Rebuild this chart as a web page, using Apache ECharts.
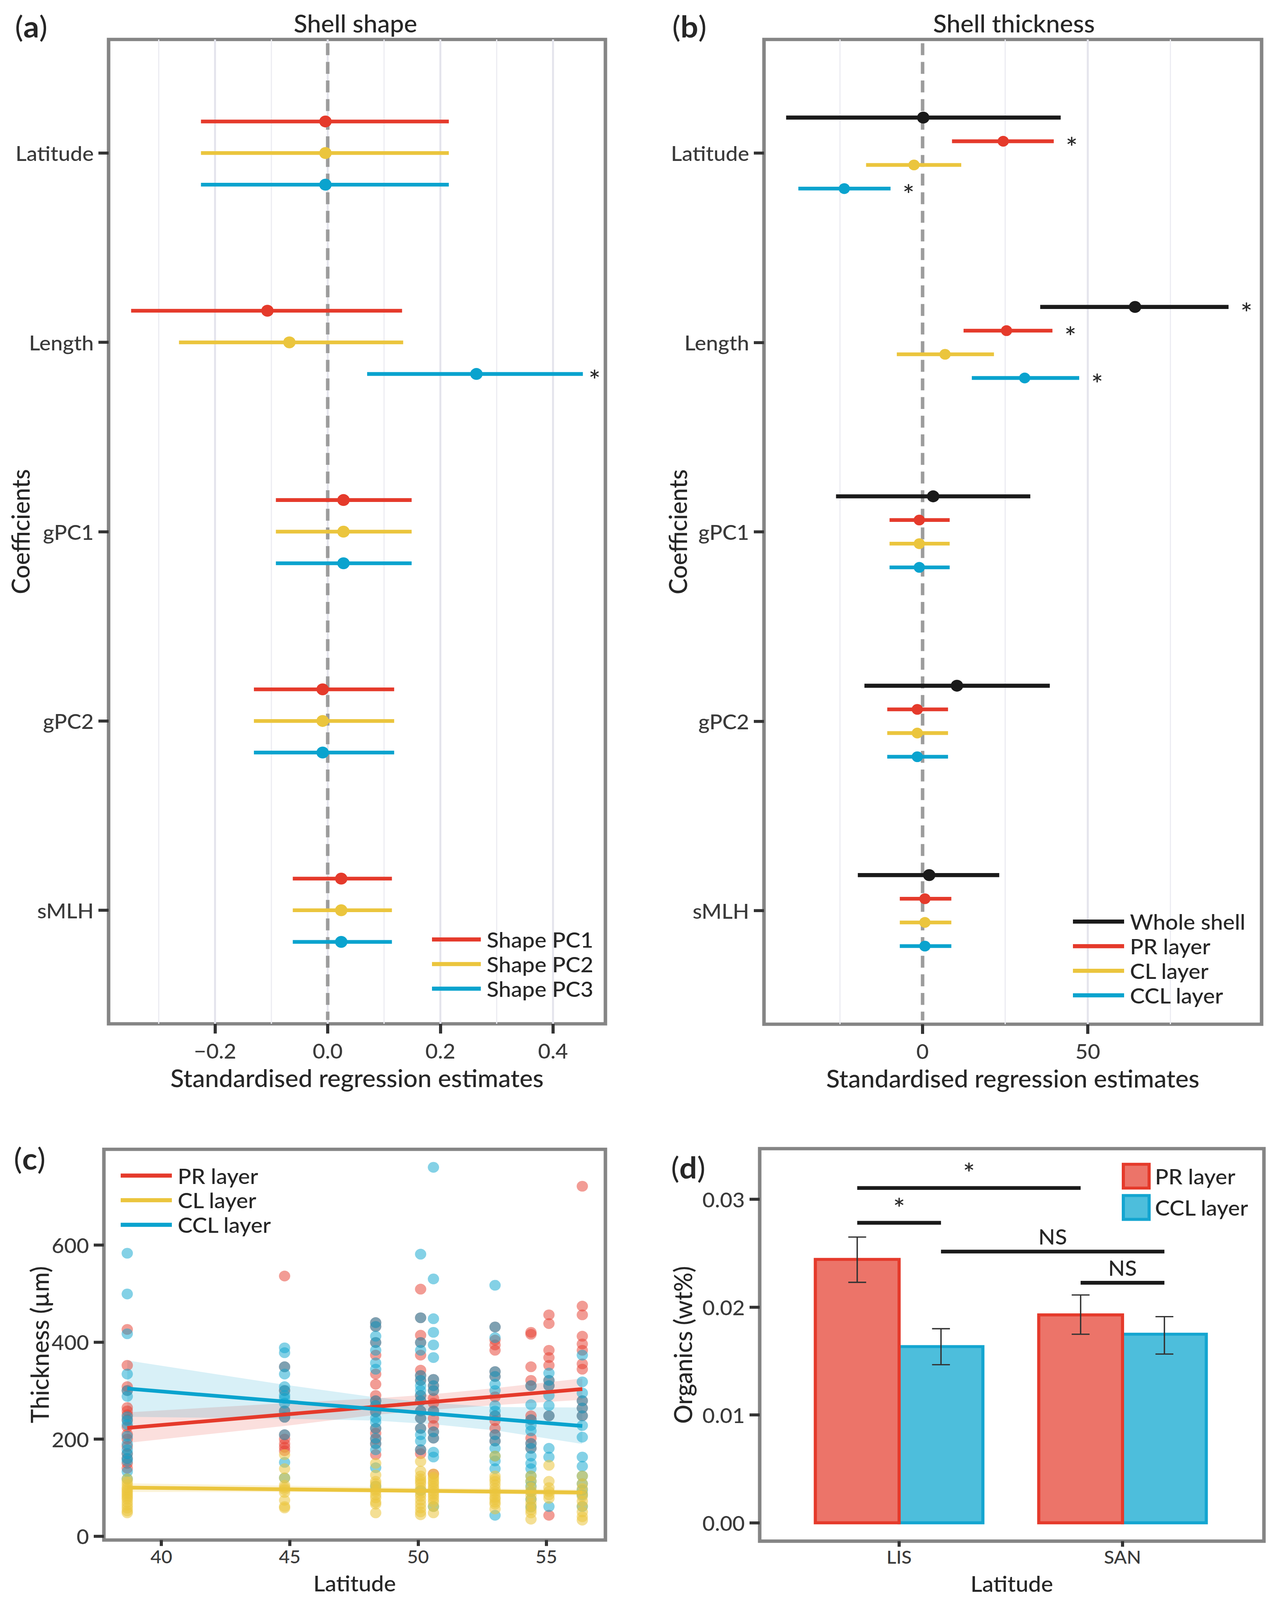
<!DOCTYPE html>
<html>
<head>
<meta charset="utf-8">
<title>Shell shape, thickness and organics</title>
<script src="https://cdn.jsdelivr.net/npm/echarts@6.0.0/dist/echarts.min.js"></script>
<style>
html, body { margin: 0; padding: 0; background: #fff; overflow: hidden; }
#chart { width: 3272px; height: 4296px; transform-origin: 0 0; }
</style>
</head>
<body>
<div id="chart"></div>
<script>
// ---- (a) / (b) coefficient plots ----
var coefNames = ['Latitude', 'Length', 'gPC1', 'gPC2', 'sMLH'];

// shell shape: estimate, lower, upper, significant
var pc1Est = [-0.004, -0.107, 0.028, -0.009, 0.024];
var pc1Lo  = [-0.225, -0.349, -0.092, -0.131, -0.062];
var pc1Hi  = [0.215, 0.132, 0.149, 0.118, 0.114];
var pc1Sig = [0, 0, 0, 0, 0];
var pc2Est = [-0.004, -0.068, 0.028, -0.009, 0.024];
var pc2Lo  = [-0.225, -0.264, -0.092, -0.131, -0.062];
var pc2Hi  = [0.215, 0.134, 0.149, 0.118, 0.114];
var pc2Sig = [0, 0, 0, 0, 0];
var pc3Est = [-0.004, 0.264, 0.028, -0.009, 0.024];
var pc3Lo  = [-0.225, 0.070, -0.092, -0.131, -0.062];
var pc3Hi  = [0.215, 0.453, 0.149, 0.118, 0.114];
var pc3Sig = [0, 1, 0, 0, 0];

// shell thickness
var wholeEst = [0.2, 64.3, 3.2, 10.4, 2.0];
var wholeLo  = [-41.3, 35.6, -26.2, -17.6, -19.6];
var wholeHi  = [41.8, 92.6, 32.6, 38.5, 23.2];
var wholeSig = [0, 1, 0, 0, 0];
var prEst = [24.4, 25.4, -1.0, -1.6, 0.7];
var prLo  = [8.9, 12.4, -10.0, -10.7, -6.9];
var prHi  = [39.7, 39.3, 8.2, 7.7, 8.7];
var prSig = [1, 1, 0, 0, 0];
var clEst = [-2.6, 6.8, -1.0, -1.6, 0.7];
var clLo  = [-17.1, -7.8, -10.0, -10.7, -6.9];
var clHi  = [11.7, 21.6, 8.2, 7.7, 8.7];
var clSig = [0, 0, 0, 0, 0];
var cclEst = [-23.7, 30.9, -1.0, -1.6, 0.7];
var cclLo  = [-37.6, 14.9, -10.0, -10.7, -6.9];
var cclHi  = [-9.7, 47.4, 8.2, 7.7, 8.7];
var cclSig = [1, 1, 0, 0, 0];

var ticksA = [-0.2, 0, 0.2, 0.4];
var minorA = [-0.3, -0.1, 0.1, 0.3];
var ticksB = [0, 50];
var majorB = [50];
var minorB = [-25, 25, 75];

// ---- (c) thickness vs latitude ----
var latSites = [38.67, 44.8, 48.35, 50.1, 50.6, 53.0, 54.4, 55.1, 56.4];
var prThick = [
  [426, 352, 308, 300, 265, 258, 250, 240, 225, 210, 200, 185, 170, 160, 150, 140],
  [536, 349, 300, 258, 245, 209, 200, 190, 183, 176],
  [440, 432, 399, 373, 334, 313, 290, 279, 269, 256, 222, 212, 200, 190, 168],
  [509, 450, 414, 399, 373, 342, 331, 321, 290, 279, 258, 243, 222, 178, 170],
  [323, 310, 300, 284, 274, 258, 243, 228, 215, 202, 128],
  [431, 404, 394, 383, 339, 329, 287, 248, 238, 222, 209, 196],
  [420, 416, 349, 321, 310, 248, 240, 202, 191, 181],
  [456, 438, 383, 368, 352, 321, 310, 248, 43],
  [721, 474, 456, 412, 396, 383, 355, 344, 279, 264, 248]
];
var clThick = [
  [118, 112, 106, 100, 96, 92, 88, 84, 80, 76, 70, 64, 58, 52, 48],
  [168, 139, 120, 105, 100, 96, 90, 74, 61, 58],
  [150, 126, 113, 108, 103, 96, 92, 85, 79, 70, 66, 48],
  [154, 134, 124, 118, 113, 108, 100, 94, 88, 82, 74, 66, 58, 50, 44],
  [128, 122, 118, 112, 108, 102, 98, 92, 87, 82, 76, 70, 61, 48],
  [165, 124, 118, 113, 106, 98, 92, 87, 80, 76, 70, 66, 56],
  [124, 113, 100, 92, 84, 76, 68, 61, 54, 48, 35],
  [146, 113, 100, 92, 85, 78],
  [124, 108, 98, 88, 82, 72, 62, 50, 40, 33]
];
var cclThick = [
  [583, 499, 417, 334, 300, 288, 246, 238, 230, 206, 190, 178, 170, 160, 155, 133, 118],
  [388, 378, 349, 334, 308, 300, 290, 284, 274, 258, 245, 209, 152, 120],
  [440, 432, 412, 399, 383, 357, 344, 279, 269, 256, 243, 235, 222, 202, 191, 178, 141, 103],
  [581, 450, 399, 383, 331, 321, 310, 300, 290, 279, 258, 243, 222, 209, 196, 178, 94],
  [760, 530, 448, 420, 394, 368, 323, 310, 300, 258, 215, 202, 173, 163, 61],
  [517, 431, 409, 339, 329, 313, 300, 269, 258, 248, 209, 196, 181, 165, 155, 139, 43],
  [310, 271, 240, 228, 217, 191, 181, 165, 150, 139, 124, 113, 103, 92, 76, 60],
  [336, 321, 310, 290, 269, 248, 181, 163, 61],
  [373, 318, 295, 279, 264, 248, 228, 204, 163, 144, 124, 108, 95, 85, 61]
];
var fitLat = [38.67, 56.4];
var prFit  = [223, 303];
var clFit  = [100, 90];
var cclFit = [304, 227];
var bandLat   = [38.67, 44.8, 48.35, 50.5, 53.0, 56.4];
var prBandLo  = [192, 227, 250, 260, 270, 281];
var prBandHi  = [255, 274, 284, 292, 305, 325];
var clBandLo  = [91, 91, 90, 89, 87, 84];
var clBandHi  = [109, 104, 101, 99, 98, 96];
var cclBandLo = [246, 242, 238, 231, 218, 190];
var cclBandHi = [362, 312, 286, 275, 266, 265];
var ticksCx = [40, 45, 50, 55];
var ticksCy = [0, 200, 400, 600];

// ---- (d) organics ----
var orgSites = ['LIS', 'SAN'];
var prOrg   = [0.02443, 0.01928];
var prOrgLo = [0.0223, 0.01749];
var prOrgHi = [0.0265, 0.02113];
var cclOrg   = [0.01634, 0.01749];
var cclOrgLo = [0.01466, 0.01565];
var cclOrgHi = [0.0180, 0.01912];
var ticksDy = [0, 0.01, 0.02, 0.03];
// significance brackets: from (site, layer) to (site, layer) at height
var sigFromSite  = [0, 0, 0, 1];
var sigFromLayer = ['PR', 'PR', 'CCL', 'PR'];
var sigToSite    = [1, 0, 1, 1];
var sigToLayer   = ['PR', 'CCL', 'CCL', 'CCL'];
var sigHeight    = [0.03105, 0.02782, 0.02515, 0.02226];
var sigText      = ['*', '*', 'NS', 'NS'];

var RED = '#E53A2B', YEL = '#EBC53D', BLU = '#0AA3CE', BLK = '#1A1A1A';
var FONT = 'Lato';
var TXT = '#262626';

// the window can be shorter than the figure: squeeze the whole drawing to fit
var el = document.getElementById('chart');
var fitX = Math.min(1, window.innerWidth / 3272), fitY = Math.min(1, window.innerHeight / 4296);
if (fitX < 1 || fitY < 1) el.style.transform = 'scale(' + fitX + ',' + fitY + ')';

var chart = echarts.init(el, null, { renderer: 'svg' });

function errorSeries(name, color, est, lo, hi, sig, offset, gi, lineW, dotR, starGap) {
  var data = est.map(function (e, i) { return [i + 1 + offset, e, lo[i], hi[i], sig[i]]; });
  return {
    type: 'custom', name: name, xAxisIndex: gi, yAxisIndex: gi, z: 5,
    itemStyle: { color: color },
    encode: { x: [1, 2, 3], y: 0 },
    data: data,
    renderItem: function (params, api) {
      var y = api.value(0);
      var a = api.coord([api.value(2), y]);
      var b = api.coord([api.value(3), y]);
      var c = api.coord([api.value(1), y]);
      var kids = [
        { type: 'line', shape: { x1: a[0], y1: a[1], x2: b[0], y2: b[1] }, style: { stroke: color, lineWidth: lineW } },
        { type: 'circle', shape: { cx: c[0], cy: c[1], r: dotR }, style: { fill: color } }
      ];
      if (api.value(4)) {
        kids.push({ type: 'text', x: b[0] + starGap, y: b[1] + 16,
          style: { text: '*', fill: TXT, fontSize: 72, fontFamily: FONT, fontWeight: 500, align: 'center', verticalAlign: 'middle' } });
      }
      return { type: 'group', children: kids };
    }
  };
}

function vlineSeries(values, gi, y0, y1, color, width, dash, z) {
  return {
    type: 'custom', xAxisIndex: gi, yAxisIndex: gi, silent: true, z: z,
    encode: { x: 0 },
    data: values.map(function (v) { return [v]; }),
    renderItem: function (params, api) {
      var p0 = api.coord([api.value(0), y0]);
      var p1 = api.coord([api.value(0), y1]);
      return { type: 'line', shape: { x1: p0[0], y1: p0[1], x2: p1[0], y2: p1[1] },
        style: { stroke: color, lineWidth: width, lineDash: dash || null } };
    }
  };
}

function sitePoints(vals) {
  var out = [];
  latSites.forEach(function (lat, i) {
    vals[i].forEach(function (v) { out.push([lat, v]); });
  });
  return out;
}

function bandSeries(fill, lo, hi) {
  return {
    type: 'custom', xAxisIndex: 2, yAxisIndex: 2, silent: true, z: 3,
    encode: { x: 0, y: 1 },
    data: [[bandLat[0], lo[0]]],
    renderItem: function (params, api) {
      var pts = [];
      for (var i = 0; i < bandLat.length; i++) pts.push(api.coord([bandLat[i], hi[i]]));
      for (var j = bandLat.length - 1; j >= 0; j--) pts.push(api.coord([bandLat[j], lo[j]]));
      return { type: 'polygon', shape: { points: pts }, style: { fill: fill } };
    }
  };
}

var dodge = { PR: -0.1875, CCL: 0.1875 };
var barHalf = 0.1875, capHalf = 0.04;

function barSeries(name, layer, vals, lo, hi, fill, stroke, z) {
  return {
    type: 'custom', name: name, xAxisIndex: 3, yAxisIndex: 3, z: z,
    itemStyle: { color: fill, borderColor: stroke },
    encode: { x: 0, y: [1, 2, 3] },
    data: vals.map(function (v, i) { return [i + 1 + dodge[layer], v, lo[i], hi[i]]; }),
    renderItem: function (params, api) {
      var x = api.value(0);
      var tl = api.coord([x - barHalf, api.value(1)]);
      var br = api.coord([x + barHalf, 0]);
      var e0 = api.coord([x, api.value(2)]);
      var e1 = api.coord([x, api.value(3)]);
      var cl = api.coord([x - capHalf, api.value(2)]);
      var cr = api.coord([x + capHalf, api.value(2)]);
      var ck = { stroke: '#333', lineWidth: 3.5 };
      return { type: 'group', children: [
        { type: 'rect', shape: { x: tl[0], y: tl[1], width: br[0] - tl[0], height: br[1] - tl[1] },
          style: { fill: fill, stroke: stroke, lineWidth: 8 } },
        { type: 'line', shape: { x1: e0[0], y1: e0[1], x2: e1[0], y2: e1[1] }, style: ck },
        { type: 'line', shape: { x1: cl[0], y1: cl[1], x2: cr[0], y2: cr[1] }, style: ck },
        { type: 'line', shape: { x1: cl[0], y1: e1[1], x2: cr[0], y2: e1[1] }, style: ck }
      ] };
    }
  };
}

var bracketData = sigHeight.map(function (h, i) {
  return [sigFromSite[i] + 1 + dodge[sigFromLayer[i]], sigToSite[i] + 1 + dodge[sigToLayer[i]], h, i];
});

var labelStyle = { color: '#3a3a3a', fontSize: 55, fontFamily: FONT, fontWeight: 500 };
var nameStyle = { color: TXT, fontSize: 64, fontFamily: FONT, fontWeight: 500 };
var frame = { show: true, borderColor: '#858585', borderWidth: 9, backgroundColor: '#fff' };

function tickCfg(ticks, len) {
  return { show: true, customValues: ticks, length: len, lineStyle: { color: '#333', width: 8 } };
}

function xAxisCfg(gi, min, max, ticks, fmt, name, gap, margin, labelSize, nameSize, tickLen) {
  return {
    type: 'value', gridIndex: gi, min: min, max: max,
    name: name, nameLocation: 'middle', nameGap: gap, nameMoveOverlap: false,
    nameTextStyle: Object.assign({}, nameStyle, { fontSize: nameSize }),
    axisLine: { show: false, onZero: false }, splitLine: { show: false },
    axisTick: tickCfg(ticks, tickLen),
    axisLabel: Object.assign({ customValues: ticks, margin: margin, formatter: fmt }, labelStyle, { fontSize: labelSize })
  };
}
function yAxisCfg(gi, min, max, ticks, fmt, name, gap, inverse) {
  return {
    type: 'value', gridIndex: gi, min: min, max: max, inverse: !!inverse,
    name: name, nameLocation: 'middle', nameGap: gap, nameRotate: 90, nameMoveOverlap: false, nameTextStyle: nameStyle,
    axisLine: { show: false, onZero: false }, splitLine: { show: false },
    axisTick: tickCfg(ticks, 26),
    axisLabel: Object.assign({ customValues: ticks, margin: 38, formatter: fmt }, labelStyle)
  };
}
var coefFmt = function (v) { return coefNames[Math.round(v) - 1]; };
var catTicks = [1, 2, 3, 4, 5];

function legendCfg(left, top, items, w, h, gap) {
  return {
    left: left, top: top, orient: 'vertical', selectedMode: false,
    itemWidth: w, itemHeight: h, itemGap: gap,
    textStyle: { color: TXT, fontSize: 57, fontFamily: FONT, fontWeight: 500, lineHeight: 52, padding: [0, 0, 0, 10] },
    data: items
  };
}
function lineItem(name, color) {
  return { name: name, icon: 'rect', itemStyle: { color: color, borderWidth: 0 } };
}

function panelLabel(letter, x, y) {
  return { type: 'text', x: x, y: y, style: {
    text: '{p|(}{b|' + letter + '}{p|)}', align: 'center', verticalAlign: 'middle',
    rich: { p: { fontSize: 80, fontFamily: FONT, fill: TXT }, b: { fontSize: 80, fontFamily: FONT, fontWeight: 'bold', fill: TXT } } } };
}
function headText(text, x, y) {
  return { type: 'text', x: x, y: y, style: { text: text, align: 'center', verticalAlign: 'middle',
    fontSize: 64, fontFamily: FONT, fontWeight: 500, fill: TXT } };
}

var option = {
  backgroundColor: '#fff',
  animation: false,
  textStyle: { fontFamily: FONT },
  grid: [
    Object.assign({ left: 278, top: 106, width: 1272, height: 2643 }, frame),
    Object.assign({ left: 1956, top: 106, width: 1274, height: 2644 }, frame),
    Object.assign({ left: 266, top: 3086, width: 1284, height: 1049 }, frame),
    Object.assign({ left: 1945, top: 3084, width: 1291, height: 1054 }, frame)
  ],
  xAxis: [
    xAxisCfg(0, -0.389, 0.493, ticksA, function (v) { return v.toFixed(1).replace('-', '\u2212'); }, 'Standardised regression estimates', 113, 44, 55, 64, 26),
    xAxisCfg(1, -48, 102.6, ticksB, function (v) { return String(Math.round(v)); }, 'Standardised regression estimates', 113, 44, 55, 64, 26),
    xAxisCfg(2, 37.76, 57.3, ticksCx, function (v) { return String(Math.round(v)); }, 'Latitude', 86, 20, 48, 58, 16),
    xAxisCfg(3, 0.376, 2.633, [1, 2], function (v) { return orgSites[Math.round(v) - 1]; }, 'Latitude', 84, 18, 48, 58, 15)
  ],
  yAxis: [
    yAxisCfg(0, 0.4, 5.6, catTicks, coefFmt, 'Coefficients', 195, true),
    yAxisCfg(1, 0.4, 5.6, catTicks, coefFmt, 'Coefficients', 190, true),
    yAxisCfg(2, -8, 797, ticksCy, function (v) { return String(Math.round(v)); }, 'Thickness (\u00b5m)', 134, false),
    yAxisCfg(3, -0.0017, 0.0347, ticksDy, function (v) { return v.toFixed(2); }, 'Organics (wt%)', 166, false)
  ],
  legend: [
    legendCfg(1101, 2489, [lineItem('Shape PC1', RED), lineItem('Shape PC2', YEL), lineItem('Shape PC3', BLU)], 125, 11, 9),
    legendCfg(2742, 2441, [lineItem('Whole shell', BLK), lineItem('PR layer', RED), lineItem('CL layer', YEL), lineItem('CCL layer', BLU)], 131, 11, 9),
    legendCfg(304, 3123, [lineItem('PR layer', RED), lineItem('CL layer', YEL), lineItem('CCL layer', BLU)], 131, 11, 9),
    legendCfg(2867, 3117, [
      { name: 'PR layer', icon: 'rect', itemStyle: { color: '#EC7469', borderColor: RED, borderWidth: 8 } },
      { name: 'CCL layer', icon: 'rect', itemStyle: { color: '#4DBEDC', borderColor: '#14A5D0', borderWidth: 8 } }
    ], 66, 64, 12)
  ],
  graphic: [
    panelLabel('a', 80, 70), headText('Shell shape', 910, 62),
    panelLabel('b', 1765, 70), headText('Shell thickness', 2596, 62),
    panelLabel('c', 76, 3110), panelLabel('d', 1762, 3134)
  ],
  series: [
    // (a)
    vlineSeries(minorA, 0, 0.4, 5.6, '#ECECF2', 3, null, 1),
    vlineSeries(ticksA, 0, 0.4, 5.6, '#E4E4EC', 5, null, 1),
    vlineSeries([0], 0, 0.42, 5.58, '#9C9C9C', 9, [32, 18], 2),
    errorSeries('Shape PC1', RED, pc1Est, pc1Lo, pc1Hi, pc1Sig, -0.167, 0, 10, 16, 30),
    errorSeries('Shape PC2', YEL, pc2Est, pc2Lo, pc2Hi, pc2Sig, 0, 0, 10, 16, 30),
    errorSeries('Shape PC3', BLU, pc3Est, pc3Lo, pc3Hi, pc3Sig, 0.167, 0, 10, 16, 30),
    // (b)
    vlineSeries(minorB, 1, 0.4, 5.6, '#ECECF2', 3, null, 1),
    vlineSeries(majorB, 1, 0.4, 5.6, '#E4E4EC', 5, null, 1),
    vlineSeries([0], 1, 0.42, 5.58, '#9C9C9C', 9, [32, 18], 2),
    errorSeries('Whole shell', BLK, wholeEst, wholeLo, wholeHi, wholeSig, -0.1875, 1, 11, 16, 46),
    errorSeries('PR layer', RED, prEst, prLo, prHi, prSig, -0.0625, 1, 10, 14.5, 46),
    errorSeries('CL layer', YEL, clEst, clLo, clHi, clSig, 0.0625, 1, 10, 14.5, 46),
    errorSeries('CCL layer', BLU, cclEst, cclLo, cclHi, cclSig, 0.1875, 1, 10, 14.5, 46),
    // (c)
    bandSeries('rgba(229,58,43,0.16)', prBandLo, prBandHi),
    bandSeries('rgba(10,163,206,0.16)', cclBandLo, cclBandHi),
    bandSeries('rgba(235,197,61,0.2)', clBandLo, clBandHi),
    { type: 'scatter', name: 'PR layer', xAxisIndex: 2, yAxisIndex: 2, z: 4, symbolSize: 29,
      itemStyle: { color: RED, opacity: 0.5 }, data: sitePoints(prThick) },
    { type: 'scatter', name: 'CCL layer', xAxisIndex: 2, yAxisIndex: 2, z: 4, symbolSize: 29,
      itemStyle: { color: BLU, opacity: 0.5 }, data: sitePoints(cclThick) },
    { type: 'scatter', name: 'CL layer', xAxisIndex: 2, yAxisIndex: 2, z: 4, symbolSize: 29,
      itemStyle: { color: YEL, opacity: 0.55 }, data: sitePoints(clThick) },
    { type: 'line', name: 'PR layer', xAxisIndex: 2, yAxisIndex: 2, z: 6, symbol: 'none',
      lineStyle: { color: RED, width: 10 }, data: fitLat.map(function (x, i) { return [x, prFit[i]]; }) },
    { type: 'line', name: 'CL layer', xAxisIndex: 2, yAxisIndex: 2, z: 6, symbol: 'none',
      lineStyle: { color: YEL, width: 10 }, data: fitLat.map(function (x, i) { return [x, clFit[i]]; }) },
    { type: 'line', name: 'CCL layer', xAxisIndex: 2, yAxisIndex: 2, z: 6, symbol: 'none',
      lineStyle: { color: BLU, width: 10 }, data: fitLat.map(function (x, i) { return [x, cclFit[i]]; }) },
    // (d)
    barSeries('CCL layer', 'CCL', cclOrg, cclOrgLo, cclOrgHi, '#4DBEDC', '#14A5D0', 4),
    barSeries('PR layer', 'PR', prOrg, prOrgLo, prOrgHi, '#EC7469', RED, 5),
    { type: 'custom', xAxisIndex: 3, yAxisIndex: 3, z: 6, silent: true,
      encode: { x: [0, 1], y: 2 },
      data: bracketData,
      renderItem: function (params, api) {
        var a = api.coord([api.value(0), api.value(2)]);
        var b = api.coord([api.value(1), api.value(2)]);
        var star = sigText[api.value(3)] === '*';
        return { type: 'group', children: [
          { type: 'line', shape: { x1: a[0], y1: a[1], x2: b[0], y2: b[1] }, style: { stroke: BLK, lineWidth: 10 } },
          { type: 'text', x: (a[0] + b[0]) / 2, y: a[1] - (star ? 4 : 12),
            style: { text: sigText[api.value(3)], fill: TXT, fontSize: star ? 72 : 56, fontFamily: FONT, fontWeight: 500,
              align: 'center', verticalAlign: 'bottom' } }
        ] };
      }
    }
  ]
};

chart.setOption(option);
</script>
</body>
</html>
